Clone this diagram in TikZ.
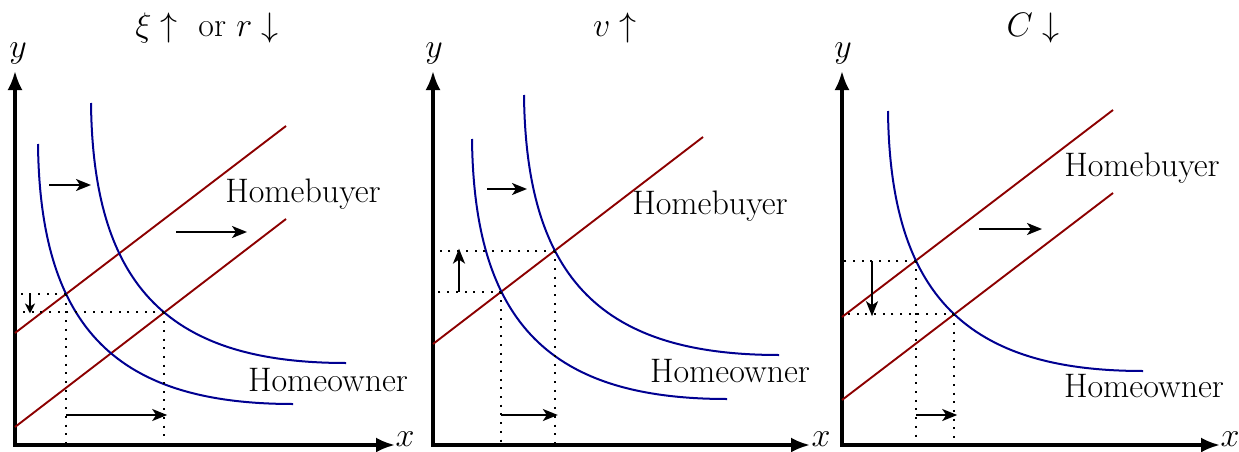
\documentclass[tikz,border=0pt]{standalone}
\usepackage{fix-cm}
\usetikzlibrary{arrows.meta,intersections}
\definecolor{sred}{RGB}{140,0,0}
\definecolor{dblue}{RGB}{0,0,145}
\begin{document}
\begin{tikzpicture}[x=1pt,y=-1pt,
  axis/.style={line width=3.3pt,{Latex[length=19pt,width=15pt]}-{Latex[length=19pt,width=15pt]}},
  supply/.style={draw=sred,line width=1.9pt},
  demand/.style={draw=dblue,line width=2pt},
  guide/.style={line width=2pt,dash pattern=on 2pt off 6.7pt},
  shiftarrow/.style={line width=2pt,-{Stealth[length=15pt,width=12pt,inset=4pt]}},
  lbl/.style={inner sep=0pt,font=\fontsize{34}{40}\selectfont},
]
\useasboundingbox (0,0) rectangle (1239,452);

% ---------------- Panel 1 ----------------
\coordinate (O1) at (15,445);
\coordinate (Y1) at (15,71);
\coordinate (X1) at (395,445);
\draw[axis] (Y1) -- (O1) -- (X1);
\node[lbl] (ylab1) at (18,53) {$y$};
\node[lbl] (xlab1) at (405,439) {$x$};
\node[lbl] (title1) at (207,28) {$\xi\uparrow$~ or $r\downarrow$};

\coordinate (s1a) at (15,333); \coordinate (s1b) at (286,126);
\coordinate (s2a) at (15,427); \coordinate (s2b) at (286,219);
\draw[supply,name path=p1s1] (s1a) -- (s1b);
\draw[supply,name path=p1s2] (s2a) -- (s2b);
\draw[demand,name path=p1d1] (38,144) .. controls (40,330) and (118,404) .. (293,404);
\draw[demand,name path=p1d2] (91,103) .. controls (93,289) and (171,363) .. (346,363);
\path[name intersections={of=p1s1 and p1d1,by=A1}];
\path[name intersections={of=p1s2 and p1d2,by=B1}];
\draw[guide] (A1) -- (A1 -| O1);
\draw[guide] (A1) -- (A1 |- O1);
\draw[guide] (B1) -- (B1 -| O1);
\draw[guide] (B1) -- (B1 |- O1);
\path (A1 -| O1) ++(15,0) coordinate (d1a);
\path (B1 -| O1) ++(15,1) coordinate (d1b);
\draw[shiftarrow,-{Stealth[length=10pt,width=10pt,inset=3pt]}] (d1a) -- (d1b);
\path (A1 |- O1) ++(0,-30) coordinate (h1a);
\path (B1 |- O1) ++(3,-30) coordinate (h1b);
\draw[shiftarrow] (h1a) -- (h1b);
\coordinate (m1a) at (49,185); \coordinate (m1b) at (91,185);
\draw[shiftarrow] (m1a) -- (m1b);
\coordinate (n1a) at (176,232); \coordinate (n1b) at (247,232);
\draw[shiftarrow] (n1a) -- (n1b);
\node[lbl] (hb1) at (303,194) {Homebuyer};
\node[lbl] (ho1) at (328,380) {Homeowner};

% ---------------- Panel 2 ----------------
\coordinate (O2) at (433,445);
\coordinate (Y2) at (433,71);
\coordinate (X2) at (810,445);
\draw[axis] (Y2) -- (O2) -- (X2);
\node[lbl] (ylab2) at (434,53) {$y$};
\node[lbl] (xlab2) at (821,439) {$x$};
\node[lbl] (title2) at (615,28) {$v\uparrow$};

\coordinate (s3a) at (433,344); \coordinate (s3b) at (703,137);
\draw[supply,name path=p2s] (s3a) -- (s3b);
\draw[demand,name path=p2d1] (472,139) .. controls (474,325) and (552,399) .. (727,399);
\draw[demand,name path=p2d2] (524,95) .. controls (526,281) and (604,355) .. (779,355);
\path[name intersections={of=p2s and p2d1,by=A2}];
\path[name intersections={of=p2s and p2d2,by=B2}];
\draw[guide] (A2) -- (A2 -| O2);
\draw[guide] (A2) -- (A2 |- O2);
\draw[guide] (B2) -- (B2 -| O2);
\draw[guide] (B2) -- (B2 |- O2);
\path (A2 -| O2) ++(26,0) coordinate (d2a);
\path (B2 -| O2) ++(26,-2) coordinate (d2b);
\draw[shiftarrow] (d2a) -- (d2b);
\path (A2 |- O2) ++(0,-30) coordinate (h2a);
\path (B2 |- O2) ++(3,-30) coordinate (h2b);
\draw[shiftarrow] (h2a) -- (h2b);
\coordinate (m2a) at (487,189); \coordinate (m2b) at (527,189);
\draw[shiftarrow] (m2a) -- (m2b);
\node[lbl] (hb2) at (710,206) {Homebuyer};
\node[lbl] (ho2) at (730,371) {Homeowner};

% ---------------- Panel 3 ----------------
\coordinate (O3) at (842,445);
\coordinate (Y3) at (842,71);
\coordinate (X3) at (1220,445);
\draw[axis] (Y3) -- (O3) -- (X3);
\node[lbl] (ylab3) at (843,53) {$y$};
\node[lbl] (xlab3) at (1230,439) {$x$};
\node[lbl] (title3) at (1033,28) {$C\downarrow$};

\coordinate (s4a) at (842,317); \coordinate (s4b) at (1113,110);
\coordinate (s5a) at (842,400); \coordinate (s5b) at (1113,193);
\draw[supply,name path=p3s1] (s4a) -- (s4b);
\draw[supply,name path=p3s2] (s5a) -- (s5b);
\draw[demand,name path=p3d] (888,111) .. controls (890,297) and (968,371) .. (1143,371);
\path[name intersections={of=p3s1 and p3d,by=A3}];
\path[name intersections={of=p3s2 and p3d,by=B3}];
\draw[guide] (A3) -- (A3 -| O3);
\draw[guide] (A3) -- (A3 |- O3);
\draw[guide] (B3) -- (B3 -| O3);
\draw[guide] (B3) -- (B3 |- O3);
\path (A3 -| O3) ++(30,0) coordinate (d3a);
\path (B3 -| O3) ++(30,2) coordinate (d3b);
\draw[shiftarrow] (d3a) -- (d3b);
\path (A3 |- O3) ++(0,-30) coordinate (h3a);
\path (B3 |- O3) ++(3,-30) coordinate (h3b);
\draw[shiftarrow] (h3a) -- (h3b);
\coordinate (m3a) at (979,229); \coordinate (m3b) at (1042,229);
\draw[shiftarrow] (m3a) -- (m3b);
\node[lbl] (hb3) at (1142,168) {Homebuyer};
\node[lbl] (ho3) at (1144,386) {Homeowner};
\end{tikzpicture}
\end{document}
